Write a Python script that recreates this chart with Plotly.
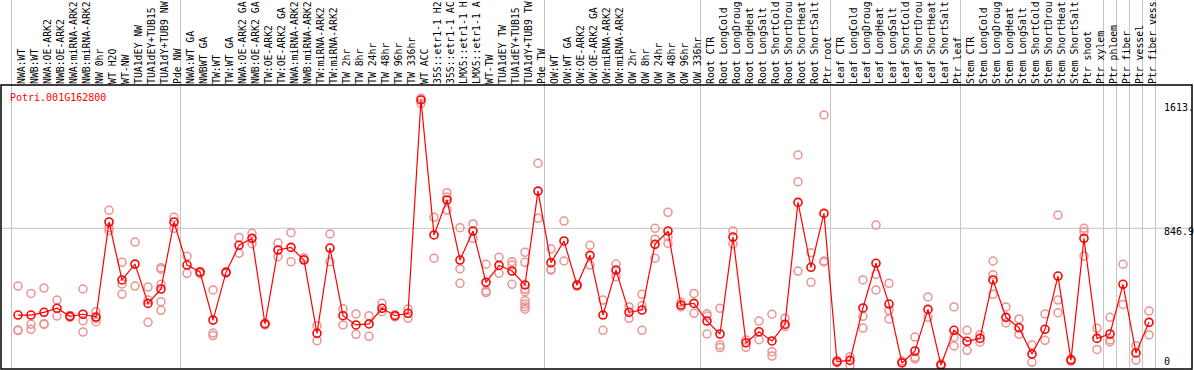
import plotly.graph_objects as go

CATEGORIES = [
    "NWA:WT", "NWB:WT", "NWA:OE-ARK2", "NWB:OE-ARK2", "NWA:miRNA-ARK2", "NWB:miRNA-ARK2",
    "NW 0hr", "WT H2O", "WT-NW", "TUA1dEY NW", "TUA1dEY+TUB15", "TUA1dY+TUB9 NW", "Pde NW",
    "NWA:WT GA", "NWBWT GA", "TW:WT", "TW:WT GA", "NWA:OE-ARK2 GA", "NWB:OE-ARK2 GA",
    "TW:OE-ARK2", "TW:OE-ARK2 GA", "NWA:miRNA-ARK2", "NWB:miRNA-ARK2", "TW:miRNA-ARK2",
    "TW:miRNA-ARK2", "TW 2hr", "TW 8hr", "TW 24hr", "TW 48hr", "TW 96hr", "TW 336hr", "WT ACC",
    "35S::etr1-1 H2", "35S::etr1-1 AC", "LMX5::etr1-1 H", "LMX5::etr1-1 A", "WT-TW",
    "TUA1dEY TW", "TUA1dEY+TUB15", "TUA1dY+TUB9 TW", "Pde TW",
    "OW:WT", "OW:WT GA", "OW:OE-ARK2", "OW:OE-ARK2 GA", "OW:miRNA-ARK2", "OW:miRNA-ARK2",
    "OW 2hr", "OW 8hr", "OW 24hr", "OW 48hr", "OW 96hr", "OW 336hr",
    "Root CTR", "Root LongCold", "Root LongDroug", "Root LongHeat", "Root LongSalt",
    "Root ShortCold", "Root ShortDrou", "Root ShortHeat", "Root ShortSalt", "Ptr root",
    "Leaf CTR", "Leaf LongCold", "Leaf LongDroug", "Leaf LongHeat", "Leaf LongSalt",
    "Leaf ShortCold", "Leaf ShortDrou", "Leaf ShortHeat", "Leaf ShortSalt", "Ptr leaf",
    "Stem CTR", "Stem LongCold", "Stem LongDroug", "Stem LongHeat", "Stem LongSalt",
    "Stem ShortCold", "Stem ShortDrou", "Stem ShortHeat", "Stem ShortSalt", "Ptr shoot",
    "Ptr xylem", "Ptr phloem", "Ptr fiber", "Ptr vessel", "Ptr fiber vess",
]

MEANS = [
    311, 311, 328, 353, 303, 316, 299, 886, 528, 626, 383, 472, 886,
    620, 577, 280, 575, 742, 785, 256, 713, 729, 651, 198, 725, 307, 250, 256, 353, 307, 322, 1640,
    806, 1022, 651, 830, 513, 618, 583, 497, 1077,
    635, 769, 495, 680, 311, 589, 328, 342, 748, 830, 373, 383,
    274, 194, 793, 140, 208, 151, 254, 1007, 606, 939,
    23, 31, 355, 631, 379, 15, 89, 346, 2, 217,
    149, 167, 528, 297, 233, 70, 223, 552, 33, 785, 167,
    194, 501, 77, 266,
]

REPLICATES = [
    [490, 219, 215], [445, 254, 223], [478, 253, 258], [404, 305], [309, 297], [472, 276, 206],
    [332, 270, 290], [958, 851, 832], [637, 503, 439], [762, 490], [484, 404, 266],
    [604, 594, 501, 394, 340], [915, 847],
    [674, 569], [579, 567], [466, 200, 184], [578, 570], [791, 693], [816, 752], [262, 250],
    [756, 672], [820, 641], [665, 655], [245, 153], [812, 641], [350, 250], [318, 192],
    [307, 180], [384, 332], [313, 300], [348, 291], [1650, 1619],
    [915, 662], [1067, 960, 1040], [851, 596, 507], [874, 785], [625, 460, 450], [668, 569],
    [641, 501, 620], [699, 637, 470, 455, 400, 379, 362, 347], [1249, 909],
    [719, 594, 588], [892, 645], [500, 490], [742, 620], [404, 217], [626, 548], [363, 291],
    [439, 370, 217], [847, 780, 662], [946, 795, 754], [390, 362], [445, 322],
    [319, 305, 194], [353, 126, 110], [830, 750], [157, 112], [274, 159], [316, 85, 58],
    [291, 240], [1300, 1135, 583], [696, 513], [1547, 645, 639],
    [30, 17], [54, 0], [528, 303, 231], [867, 563, 466], [507, 340, 287], [27, 20],
    [175, 40, 50], [423, 297], [10, 5], [361, 174, 120],
    [217, 93], [190, 143], [645, 560, 439], [361, 262], [287, 192], [126, 19], [318, 155],
    [929, 404, 326], [40, 25], [847, 825, 676], [229, 99],
    [297, 157, 145], [625, 377], [122, 33], [336, 188],
]

GROUP_BOUNDS = [-0.5, 12.5, 40.5, 52.5, 62.5, 72.5, 83.5, 84.5, 85.5, 86.5, 87.5]
YTICK_VALS = [0, 846.9, 1613.7]
YTICK_TEXT = ["0", "846.9", "1613."]
GRID_VALUE = 846.9
TITLE = "Potri.001G162800"

X_RANGE = [-1.308, 90.31]
Y_RANGE = [-22.2, 1732.4]

MONO = "DejaVu Sans Mono"

xs = list(range(len(CATEGORIES)))
rep_x = [i for i, vals in enumerate(REPLICATES) for _ in vals]
rep_y = [v for vals in REPLICATES for v in vals]

fig = go.Figure()
fig.add_trace(go.Scatter(
    x=rep_x, y=rep_y, mode="markers",
    marker=dict(symbol="circle-open", size=8, color="#eb9393", line=dict(width=1.5, color="#eb9393")),
    hoverinfo="skip", showlegend=False,
))
fig.add_trace(go.Scatter(
    x=xs, y=MEANS, mode="lines+markers",
    line=dict(color="#ff0000", width=1.2),
    marker=dict(symbol="circle-open", size=8, color="#ff0000", line=dict(width=1.6, color="#ff0000")),
    showlegend=False,
))
# empty helper trace so the second (label-only) y axis is drawn
fig.add_trace(go.Scatter(x=[], y=[], yaxis="y2", showlegend=False, hoverinfo="skip"))

shapes = []
span = X_RANGE[1] - X_RANGE[0]
for b in GROUP_BOUNDS:
    f = (b - X_RANGE[0]) / span
    shapes.append(dict(type="line", xref="x domain", yref="paper", x0=f, x1=f, y0=0, y1=1.35,
                       line=dict(color="#c4c4c4", width=1), layer="below"))
shapes.append(dict(type="line", xref="paper", yref="y", x0=0, x1=1, y0=GRID_VALUE, y1=GRID_VALUE,
                   line=dict(color="#c4c4c4", width=1), layer="below"))
shapes.append(dict(type="rect", xref="paper", yref="paper", x0=0, x1=1, y0=0, y1=1,
                   line=dict(color="black", width=1.5), layer="above"))

yaxis_common = dict(
    range=Y_RANGE, side="right", anchor="free", position=0.9756,
    tickmode="array", ticks="", showgrid=False, zeroline=False, showline=False,
    tickfont=dict(family=MONO, size=10, color="black"), automargin=False,
)

fig.update_layout(
    width=1194, height=370,
    margin=dict(l=1, r=2, t=85, b=1, autoexpand=False),
    paper_bgcolor="white", plot_bgcolor="white",
    title=dict(text=TITLE, x=9 / 1194, y=1 - 97 / 370, xanchor="left", yanchor="middle",
               xref="paper", yref="container",
               font=dict(family=MONO, size=10, color="#ff0000")),
    xaxis=dict(
        range=X_RANGE, side="top", tickmode="array", tickvals=xs, ticktext=CATEGORIES,
        tickangle=-90, ticks="", showgrid=False, zeroline=False, showline=False,
        ticklabelshift=4,
        tickfont=dict(family=MONO, size=9.8, color="black"), automargin=False,
    ),
    yaxis=dict(**yaxis_common, tickvals=YTICK_VALS[1:], ticktext=YTICK_TEXT[1:], ticklabelshift=3),
    yaxis2=dict(**yaxis_common, overlaying="y", tickvals=YTICK_VALS[:1], ticktext=YTICK_TEXT[:1],
                ticklabelshift=-4),
    shapes=shapes,
)

fig.write_html(
    "out.html",
    config={"displayModeBar": False},
    post_script="document.body.style.margin='0';document.body.style.overflow='hidden';",
)
